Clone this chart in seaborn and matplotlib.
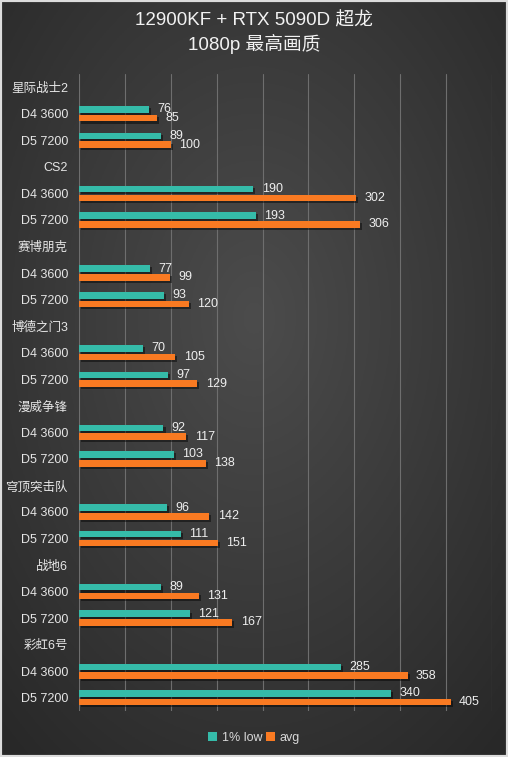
import numpy as np
import pandas as pd
import matplotlib
matplotlib.use("Agg")
import matplotlib.pyplot as plt
import matplotlib.patheffects as pe
from matplotlib.patches import Patch, Rectangle
import seaborn as sns

games = ['星际战士2', 'CS2', '赛博朋克', '博德之门3', '漫威争锋', '穹顶突击队', '战地6', '彩虹6号']
configs = ['D4 3600', 'D5 7200']
low_d4 = [76, 190, 77, 70, 92, 96, 89, 285]
low_d5 = [89, 193, 93, 97, 103, 111, 121, 340]
avg_d4 = [85, 302, 99, 105, 117, 142, 131, 358]
avg_d5 = [100, 306, 120, 129, 138, 151, 167, 405]
series = ['1% low', 'avg']
colors = ['#35BBA9', '#F97A22']
title = '12900KF + RTX 5090D 超龙\n1080p 最高画质'

sns.set_theme(style='dark')
plt.rcParams['font.family'] = ['Liberation Sans', 'Noto Sans CJK SC', 'DejaVu Sans']

# rows: header + two configs per game
row_ids, row_labels, recs = [], [], []
for g, game in enumerate(games):
    hid = f'h{g}'
    row_ids.append(hid)
    row_labels.append(game)
    for c, cfg in enumerate(configs):
        rid = f'r{g}_{c}'
        row_ids.append(rid)
        row_labels.append(cfg)
        lo = [low_d4, low_d5][c][g]
        av = [avg_d4, avg_d5][c][g]
        recs.append({'row': rid, 'series': series[0], 'value': lo})
        recs.append({'row': rid, 'series': series[1], 'value': av})
df = pd.DataFrame(recs)

W, H = 508, 757
fig = plt.figure(figsize=(W / 100, H / 100), dpi=100)

# background gradient
bg = fig.add_axes([0, 0, 1, 1], zorder=-10)
yy, xx = np.mgrid[0:1:300j, 0:1:200j]
r = np.sqrt(((xx - 0.5) / 0.75) ** 2 + ((yy - 0.42) / 0.75) ** 2)
r = np.clip(r, 0, 1)
c0, c1 = 0x4c / 255, 0x28 / 255
img = c0 + (c1 - c0) * r
bg.imshow(np.dstack([img, img, img]), extent=[0, 1, 0, 1], aspect='auto', origin='upper')
bg.set_axis_off()
bg.add_patch(Rectangle((0, 0), 1, 1, transform=bg.transAxes, fill=False,
                       edgecolor='#dcdcdc', lw=3, clip_on=False))

ax = fig.add_axes([79 / W, 1 - 711 / H, 413 / W, 637 / H])
ax.set_facecolor('none')
sns.barplot(data=df, x='value', y='row', hue='series', order=row_ids,
            hue_order=series, palette=colors, orient='h', width=0.66,
            gap=0.25, errorbar=None, ax=ax, legend=False, saturation=1)

for cont in ax.containers:
    for p in cont.patches:
        p.set_path_effects([pe.SimplePatchShadow(offset=(1.5, -1.5), shadow_rgbFace='black', alpha=0.45),
                            pe.Normal()])
        p.set_edgecolor('none')
    ax.bar_label(cont, fmt='{:.0f}', padding=6, color='#eeeeee', fontsize=9)

ax.set_xlim(0, 450)
ax.set_ylim(len(row_ids) - 0.5, -0.5)
ax.set_xticks(np.arange(0, 451, 50))
ax.set_xticklabels([])
ax.set_yticks(range(len(row_ids)))
ax.set_yticklabels(row_labels, color='#e6e6e6', fontsize=9)
ax.tick_params(axis='y', length=0, pad=8)
ax.tick_params(axis='x', length=0)
ax.xaxis.grid(True, color='#6e6e6e', lw=0.8)
ax.yaxis.grid(False)
ax.set_axisbelow(True)
ax.set_xlabel('')
ax.set_ylabel('')
for s in ax.spines.values():
    s.set_visible(False)

fig.text(0.5, 1 - 33 / H, title, ha='center', va='center', color='#f2f2f2',
         fontsize=13.5, linespacing=1.25)

handles = [Patch(facecolor=c, edgecolor='none') for c in colors]
fig.legend(handles, series, loc='center', bbox_to_anchor=(0.5, 1 - 738 / H),
           ncol=2, frameon=False, fontsize=9, labelcolor='#d8d8d8',
           handlelength=0.75, handleheight=0.75, handletextpad=0.35,
           columnspacing=0.3)

fig.savefig('out.png', dpi=100)
